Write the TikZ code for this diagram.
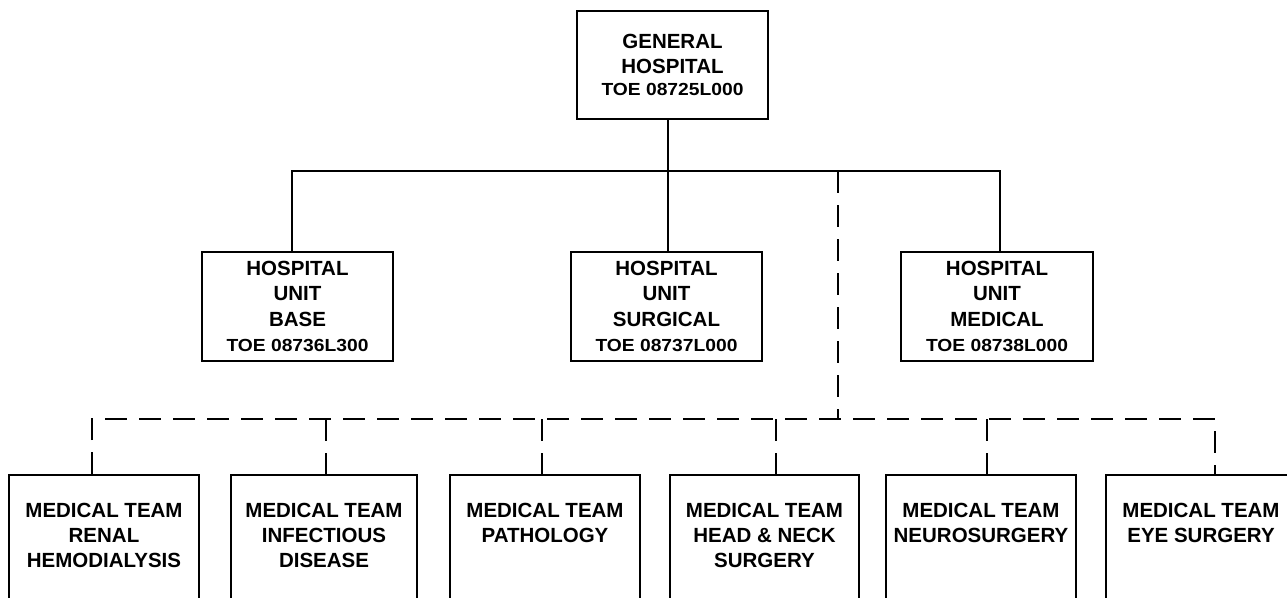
\documentclass[tikz,border=0pt]{standalone}
\usepackage{fontspec}
\setmainfont{Liberation Sans}
\usepackage{graphicx}
\newcommand{\toeline}[1]{\scalebox{1.1}[1]{\fontsize{17.5}{21}\selectfont #1}}
\tikzset{
  boxframe/.style={draw, line width=2.2pt, inner sep=0pt},
  unitbox/.style={boxframe, align=center, minimum width=191pt, minimum height=109pt,
                  font=\bfseries\fontsize{20.5}{25.5}\selectfont},
  teambox/.style={boxframe, minimum height=150pt, anchor=north},
  teamtext/.style={inner sep=0pt, align=center, anchor=north,
                   font=\bfseries\fontsize{20.5}{25}\selectfont},
  link/.style={line width=2.2pt},
  dlink/.style={line width=2.2pt, dash pattern=on 22pt off 12pt}
}
\begin{document}
\begin{tikzpicture}[x=1pt,y=-1pt]
\useasboundingbox (0,0) rectangle (1287,597);
\fill[white] (0,0) rectangle (1287,597);
\clip (0,0) rectangle (1287,597);

% top
\node[unitbox, minimum height=108pt] (gh) at (672.5,65)
  {GENERAL\\HOSPITAL\\[-3.5pt]\toeline{TOE 08725L000}};

% hospital units
\node[unitbox] (hb) at (297.5,306.5) {HOSPITAL\\UNIT\\BASE\\\toeline{TOE 08736L300}};
\node[unitbox] (hs) at (666.5,306.5) {HOSPITAL\\UNIT\\SURGICAL\\\toeline{TOE 08737L000}};
\node[unitbox, minimum width=192pt] (hm) at (997,306.5) {HOSPITAL\\UNIT\\MEDICAL\\\toeline{TOE 08738L000}};

% medical teams
\node[teambox, minimum width=190pt] (m1) at (104,474) {};
\node[teambox, minimum width=186pt] (m2) at (324,474) {};
\node[teambox, minimum width=190pt] (m3) at (545,474) {};
\node[teambox, minimum width=189pt] (m4) at (764.5,474) {};
\node[teambox, minimum width=190pt] (m5) at (981,474) {};
\node[teambox, minimum width=190pt] (m6) at (1201,474) {};

\node[teamtext] (m1t) at (104,503) {MEDICAL TEAM\\RENAL\\HEMODIALYSIS};
\node[teamtext] (m2t) at (324,503) {MEDICAL TEAM\\INFECTIOUS\\DISEASE};
\node[teamtext] (m3t) at (545,503) {MEDICAL TEAM\\PATHOLOGY};
\node[teamtext] (m4t) at (764.5,503) {MEDICAL TEAM\\HEAD \& NECK\\SURGERY};
\node[teamtext] (m5t) at (981,503) {MEDICAL TEAM\\NEUROSURGERY};
\node[teamtext] (m6t) at (1201,503) {MEDICAL TEAM\\EYE SURGERY};

% solid tree
\coordinate (hL) at (292,171);
\coordinate (hC) at (668,171);
\coordinate (hD) at (838,171);
\coordinate (hR) at (1000,171);
\draw[link] (gh.south -| hC) -- (hC);
\draw[link] (hb.north -| hL) -- (hL) -- (hR) -- (hm.north -| hR);
\draw[link] (hC) -- (hs.north -| hC);

% dashed tree
\coordinate (dC) at (838,419);
\coordinate (d1) at (92,419);
\coordinate (d2) at (326,419);
\coordinate (d3) at (542,419);
\coordinate (d4) at (776,419);
\coordinate (d5) at (987,419);
\coordinate (d6) at (1215,419);
\draw[dlink] (hD) -- (dC);
\draw[dlink] (m1.north -| d1) -- (d1) -- (d6) -- (m6.north -| d6);
\foreach \k in {2,3,4,5} {
  \draw[dlink] (d\k) -- (m\k.north -| d\k);
}
\end{tikzpicture}
\end{document}
